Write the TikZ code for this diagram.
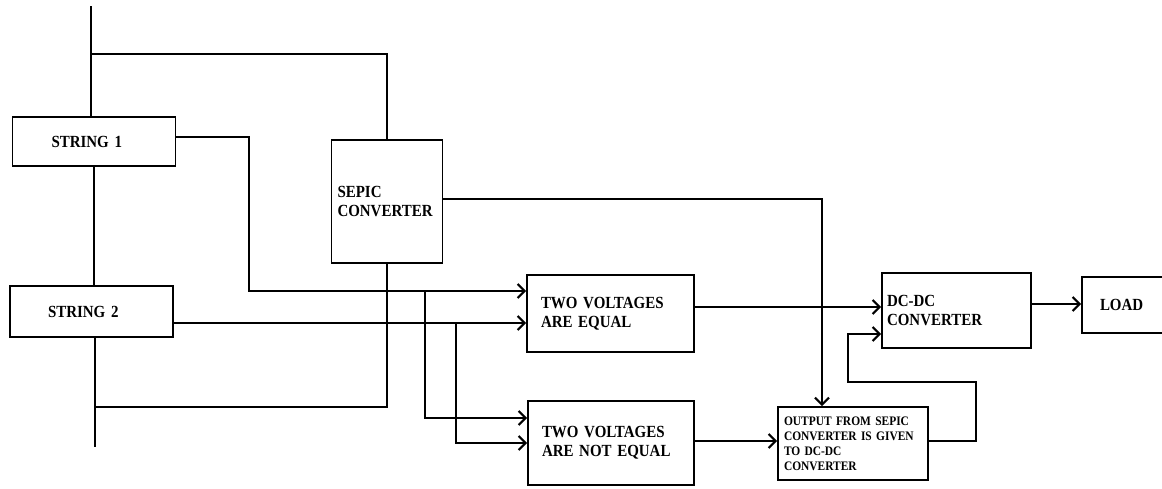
\documentclass[tikz,border=0pt]{standalone}
\usepackage{fontspec}
\setmainfont{Liberation Serif}[FakeStretch=0.88]
\usetikzlibrary{arrows.meta}
\begin{document}
\begin{tikzpicture}[x=1pt,y=-1pt,
  box/.style={draw, line width=1.6pt, inner ysep=0pt, align=left, font=\fontsize{17}{19}\selectfont\bfseries},
  small/.style={font=\fontsize{13}{15}\selectfont\bfseries},
  wire/.style={line width=1.6pt},
  arr/.style={line width=1.6pt, -{Straight Barb[length=7pt,width=14pt,line width=2.2pt]}}]
\fill[white] (0,0) rectangle (1162,488);
\clip (0,0) rectangle (1162,488);
\useasboundingbox (0,0) rectangle (1162,488);

% boxes
\node[box, minimum height=49pt, inner xsep=39pt, text width=85pt] (s1) at (94,141.5) {STRING 1};
\node[box, minimum height=51pt, inner xsep=38pt, text width=87pt] (s2) at (91.5,311.5) {STRING 2};
\node[box, minimum height=123pt, inner xsep=6pt, text width=99pt] (sepic) at (387,201.5) {SEPIC\\CONVERTER};
\node[box, minimum height=77pt, inner xsep=14pt, text width=139pt] (tve) at (610.5,313.5) {TWO VOLTAGES\\ARE EQUAL};
\node[box, minimum height=84pt, inner xsep=14pt, text width=138pt] (tvne) at (611,443) {TWO VOLTAGES\\ARE NOT EQUAL};
\node[box, minimum height=75pt, inner xsep=5pt, text width=139pt] (dcdc) at (956.5,310.5) {DC-DC\\CONVERTER};
\node[box, minimum height=56pt, inner xsep=18pt, text width=72pt] (load) at (1136,305) {LOAD};
\node[box, small, minimum height=73pt, inner xsep=6pt, text width=138pt] (out) at (853,443.5) {OUTPUT FROM SEPIC\\CONVERTER IS GIVEN\\TO DC-DC\\CONVERTER};

% helper coordinates
\coordinate (top) at (91,6);
\coordinate (j1) at (91,54);
\coordinate (bot) at (95,447);
\coordinate (j2) at (95,407);
\coordinate (h137) at (0,137);
\coordinate (h291) at (0,291);
\coordinate (h323) at (0,323);
\coordinate (h418) at (0,418);
\coordinate (h443) at (0,443);
\coordinate (h199) at (0,199);
\coordinate (h307) at (0,307);
\coordinate (h441) at (0,441);
\coordinate (h382) at (0,382);
\coordinate (h334) at (0,334);
\coordinate (h304) at (0,304);
\coordinate (v249) at (249,0);
\coordinate (v425) at (425,0);
\coordinate (v456) at (456,0);
\coordinate (v822) at (822,0);
\coordinate (v976) at (976,0);
\coordinate (v848) at (848,0);

% wires
\draw[wire] (top) -- (top |- s1.north);
\draw[wire] (j1) -| (sepic.north);
\draw[wire] (s1.south) -- (s1.south |- s2.north);
\draw[wire] (bot |- s2.south) -- (bot);
\draw[wire] (j2) -| (sepic.south);

\draw[arr] (s1.east |- h137) -| (v249 |- h291) -- (tve.west |- h291);
\draw[arr] (s2.east |- h323) -- (tve.west |- h323);
\draw[arr] (v425 |- h291) |- (tvne.west |- h418);
\draw[arr] (v456 |- h323) |- (tvne.west |- h443);
\draw[arr] (sepic.east |- h199) -| (v822 |- out.north);
\draw[arr] (tve.east |- h307) -- (dcdc.west |- h307);
\draw[arr] (tvne.east |- h441) -- (out.west |- h441);
\draw[arr] (out.east |- h441) -| (v976 |- h382) -| (v848 |- h334) -- (dcdc.west |- h334);
\draw[arr] (dcdc.east |- h304) -- (load.west |- h304);
\end{tikzpicture}
\end{document}
